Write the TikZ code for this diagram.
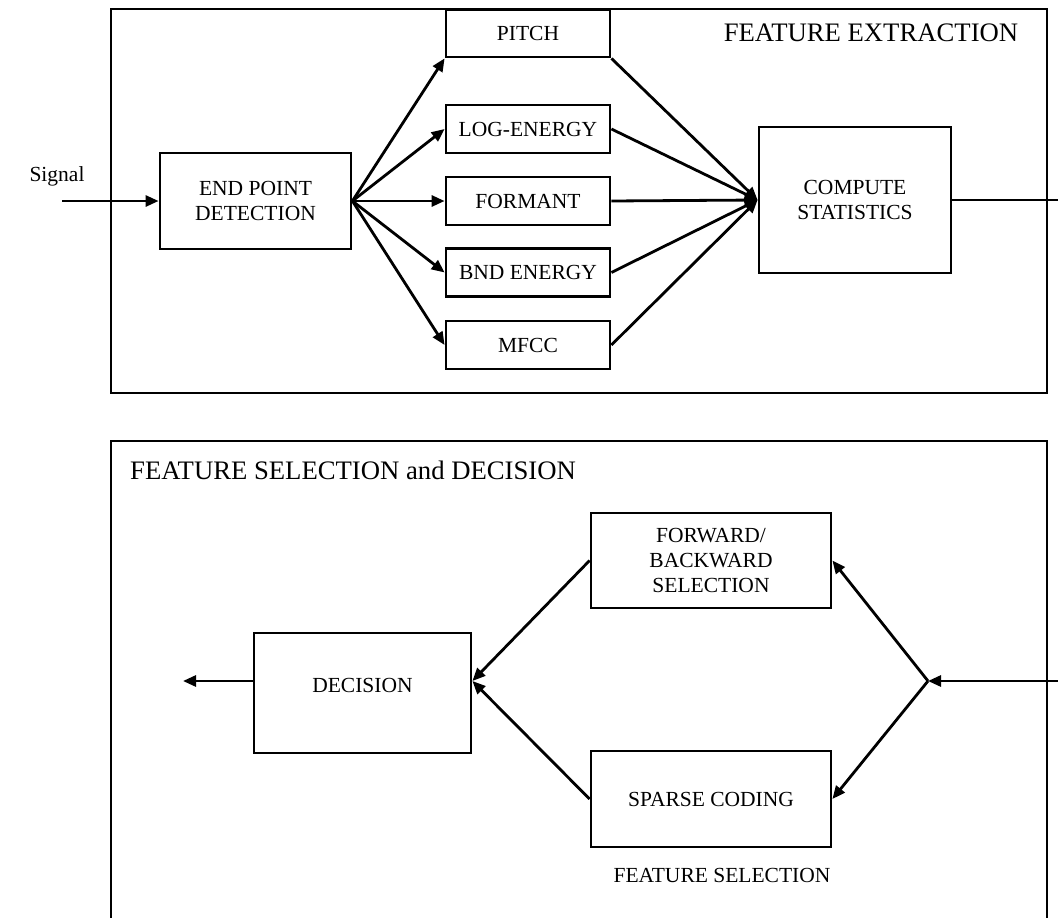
\documentclass[tikz,border=0pt]{standalone}
\usepackage{fontspec}
\setmainfont{Liberation Serif}
\usetikzlibrary{arrows.meta}
\begin{document}
\begin{tikzpicture}[x=1pt,y=-1pt,
  box/.style={draw, line width=2.8pt, inner sep=0pt, align=center, font=\fontsize{21.5}{25}\selectfont},
  conn/.style={line width=2.8pt, -{Triangle[length=13pt,width=11pt]}},
  plain/.style={line width=2.8pt},
  title/.style={font=\fontsize{26.7}{30}\selectfont, inner sep=0pt},
  lbl/.style={font=\fontsize{21.5}{25}\selectfont, inner sep=0pt}]
\clip (0,0) rectangle (1058,918);
% frames
\draw[plain] (111,9) rectangle (1047,393);
\draw[plain] (111,441) rectangle (1047,960);
% top part
\node[title] (t1) at (871,33) {FEATURE EXTRACTION};
\node[lbl] (sig) at (57,176) {Signal};
\coordinate (in) at (62,201);
\node[box, minimum width=191pt, minimum height=96pt] (ep) at (255.5,201) {END POINT\\DETECTION};
\node[box, minimum width=164pt, minimum height=47pt] (pitch) at (528,33.5) {PITCH};
\node[box, minimum width=164pt, minimum height=48pt] (log) at (528,129) {LOG-ENERGY};
\node[box, minimum width=164pt, minimum height=48pt] (form) at (528,201) {FORMANT};
\node[box, minimum width=164pt, minimum height=48pt] (bnd) at (528,272.5) {BND ENERGY};
\node[box, minimum width=164pt, minimum height=48pt] (mfcc) at (528,345) {MFCC};
\node[box, minimum width=192pt, minimum height=146pt] (cs) at (855,200) {COMPUTE\\STATISTICS};
\coordinate (o1) at (1062,200);
\draw[conn] (in) -- (ep.west);
\draw[conn] (ep.east) -- (pitch.south west);
\draw[conn] (ep.east) -- (log.west);
\draw[conn] (ep.east) -- (form.west);
\draw[conn] (ep.east) -- (bnd.west);
\draw[conn] (ep.east) -- (mfcc.west);
\draw[conn] (pitch.south east) -- (cs.west);
\draw[conn] (log.east) -- (cs.west);
\draw[conn] (form.east) -- (cs.west);
\draw[conn] (bnd.east) -- (cs.west);
\draw[conn] (mfcc.east) -- (cs.west);
\draw[plain] (cs.east) -- (o1);
% bottom part
\node[title, anchor=west] (t2) at (130,470) {FEATURE SELECTION and DECISION};
\node[box, minimum width=240pt, minimum height=95pt] (fwd) at (711,560.5) {FORWARD/\\BACKWARD\\SELECTION};
\node[box, minimum width=240pt, minimum height=96pt] (sp) at (711,799) {SPARSE CODING};
\node[lbl] (fs) at (722,875) {FEATURE SELECTION};
\node[box, minimum width=217pt, minimum height=120pt] (dec) at (362.5,693) {};
\node[lbl] (dect) at (362.5,685) {DECISION};
\coordinate (split) at (928,681);
\coordinate (in2) at (1062,681);
\coordinate (out) at (183,681);
\draw[conn] (in2) -- (split);
\draw[conn] (split) -- (fwd.east);
\draw[conn] (split) -- (sp.east);
\draw[conn] (fwd.west) -- ([yshift=12pt]dec.east);
\draw[conn] (sp.west) -- ([yshift=12pt]dec.east);
\draw[conn] ([yshift=12pt]dec.west) -- (out);
\end{tikzpicture}
\end{document}
